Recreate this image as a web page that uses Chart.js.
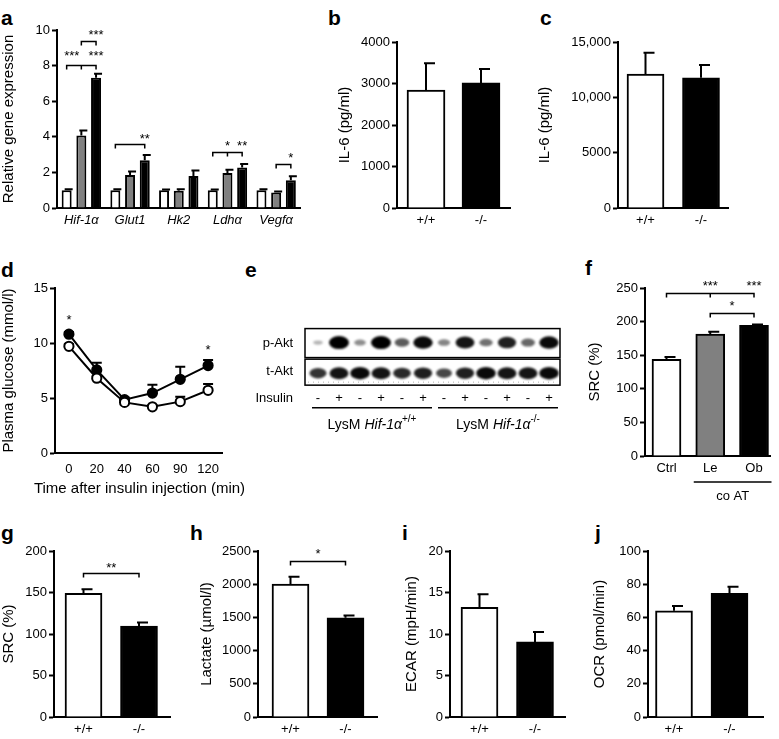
<!DOCTYPE html>
<html>
<head>
<meta charset="utf-8">
<title>Hif-1α macrophage figure</title>
<script src="https://cdn.jsdelivr.net/npm/chart.js@4.4.1/dist/chart.umd.min.js"></script>
<style>
  body { margin: 0; background: #fff; }
  #fig { position: relative; width: 779px; height: 739px; overflow: hidden; font-family: "Liberation Sans", Arial, sans-serif; }
  #fig canvas { position: absolute; }
  .tag { position: absolute; font-weight: bold; font-size: 21px; line-height: 21px; }
</style>
</head>
<body>
<div id="fig">
  <div class="tag" style="left:1px;top:7px">a</div>
  <div class="tag" style="left:328px;top:7px">b</div>
  <div class="tag" style="left:540px;top:7px">c</div>
  <div class="tag" style="left:1px;top:259px">d</div>
  <div class="tag" style="left:245px;top:259px">e</div>
  <div class="tag" style="left:585px;top:257px">f</div>
  <div class="tag" style="left:1px;top:522px">g</div>
  <div class="tag" style="left:190px;top:522px">h</div>
  <div class="tag" style="left:402px;top:522px">i</div>
  <div class="tag" style="left:595px;top:522px">j</div>
  <canvas id="ca"></canvas>
  <canvas id="cb"></canvas>
  <canvas id="cc"></canvas>
  <canvas id="cd"></canvas>
  <canvas id="ce"></canvas>
  <canvas id="cf"></canvas>
  <canvas id="cg"></canvas>
  <canvas id="ch"></canvas>
  <canvas id="ci"></canvas>
  <canvas id="cj"></canvas>
</div>
<script>
// ---- data ----
const genes = ['Hif-1α', 'Glut1', 'Hk2', 'Ldhα', 'Vegfα'];
const geneCtrl = [1.0, 1.0, 1.0, 1.0, 1.0];
const geneCtrlErr = [0.05, 0.05, 0.04, 0.04, 0.06];
const geneLean = [4.08, 1.85, 0.97, 1.97, 0.87];
const geneLeanErr = [0.28, 0.2, 0.08, 0.18, 0.05];
const geneObese = [7.32, 2.68, 1.8, 2.27, 1.56];
const geneObeseErr = [0.22, 0.3, 0.3, 0.2, 0.22];

const genotypes = ['+/+', '-/-'];
const il6Serum = [2840, 3015];
const il6SerumErr = [645, 335];
const il6Cells = [12100, 11770];
const il6CellsErr = [1930, 1150];

const times = ['0', '20', '40', '60', '90', '120'];
const glucWT = [9.7, 6.8, 4.6, 4.2, 4.67, 5.7];
const glucWTErr = [0.2, 0.2, 0.15, 0.15, 0.45, 0.57];
const glucKO = [10.8, 7.55, 4.85, 5.45, 6.7, 7.95];
const glucKOErr = [0.2, 0.65, 0.2, 0.75, 1.15, 0.5];

const insulin = ['-', '+', '-', '+', '-', '+', '-', '+', '-', '+', '-', '+'];
const pAkt = [0.12, 1, 0.3, 1, 0.55, 0.95, 0.35, 0.9, 0.45, 0.85, 0.5, 0.95];
const tAkt = [0.75, 0.9, 0.95, 0.9, 0.8, 0.85, 0.65, 0.85, 0.95, 0.9, 0.9, 0.95];
const blotRows = ['p-Akt', 't-Akt', 'Insulin'];
const mice = [{ from: 1, to: 6, sup: '+/+' }, { from: 7, to: 12, sup: '-/-' }];

const coculture = ['Ctrl', 'Le', 'Ob'];
const srcCo = [144, 181.5, 194.3];
const srcCoErr = [3.5, 3.3, 1.2];

const srcKO = [149, 109.5];
const srcKOErr = [5, 4.5];
const lactate = [2000, 1495];
const lactateErr = [112, 35];
const ecar = [13.2, 9.05];
const ecarErr = [1.6, 1.2];
const ocr = [64, 74.5];
const ocrErr = [2.8, 4];

const WHITE = '#ffffff', GREY = '#808080', BLACK = '#000000';
const FONT = '"Liberation Sans", Arial, sans-serif';

Chart.defaults.font.family = FONT;
Chart.defaults.color = '#000';

// brackets, stars and error caps per canvas
const notes = {
  ca: {
    cap: [2, 6],
    brackets: [
      { a: [0, 0], b: [0, 2], m: [0, 1], y: 8.03 },
      { a: [0, 1], b: [0, 2], y: 9.38 },
      { a: [1, 0], b: [1, 2], y: 3.6 },
      { a: [3, 0], b: [3, 2], m: [3, 1], y: 3.16 },
      { a: [4, 1], b: [4, 2], y: 2.45 }
    ],
    stars: [
      { at: [0, 0.35], y: 8.69, t: '***' }, { at: [0, 2], y: 8.69, t: '***' },
      { at: [0, 2], y: 9.87, t: '***' }, { at: [1, 2], y: 4.04, t: '**' },
      { at: [3, 1], y: 3.63, t: '*' }, { at: [3, 2], y: 3.63, t: '**' },
      { at: [4, 2], y: 2.95, t: '*' }
    ]
  },
  cd: {
    cap: [5, 5],
    stars: [{ at: [0, 1], y: 12.4, t: '*' }, { at: [5, 1], y: 9.6, t: '*' }],
    xtitle: 'Time after insulin injection (min)'
  },
  cf: {
    brackets: [{ a: [0, 0], b: [2, 0], m: [1, 0], y: 243 }, { a: [1, 0], b: [2, 0], y: 213 }],
    stars: [{ at: [1, 0], y: 258, t: '***' }, { at: [2, 0], y: 258, t: '***' }, { at: [1.5, 0], y: 227, t: '*' }],
    group: { from: 1, to: 2, text: 'co AT' }
  },
  cg: { brackets: [{ a: [0, 0], b: [1, 0], y: 173 }], stars: [{ at: [0.5, 0], y: 183, t: '**' }] },
  ch: { brackets: [{ a: [0, 0], b: [1, 0], y: 2349 }], stars: [{ at: [0.5, 0], y: 2500, t: '*' }] }
};

function barX(ch, cat, ds) {
  const px = (c, d) => ch.getDatasetMeta(d).data[c].x;
  const c0 = Math.floor(cat), d0 = Math.floor(ds);
  let x = px(c0, d0);
  if (cat > c0) x += (cat - c0) * (px(c0 + 1, d0) - px(c0, d0));
  if (ds > d0) x += (ds - d0) * (px(c0, d0 + 1) - px(c0, d0));
  return x;
}

const marks = {
  id: 'marks',
  beforeDatasetsDraw(ch) {
    const n = notes[ch.canvas.id] || {};
    const cap = n.cap || [2, 9];
    const ctx = ch.ctx, ys = ch.scales.y;
    ctx.save();
    ctx.strokeStyle = '#000';
    ctx.lineWidth = 2;
    ch.data.datasets.forEach((ds, d) => {
      if (!ds.errs) return;
      ch.getDatasetMeta(d).data.forEach((el, i) => {
        const raw = ds.data[i];
        const v = typeof raw === 'object' ? raw.y : raw;
        const top = ys.getPixelForValue(v + ds.errs[i]);
        ctx.beginPath();
        ctx.moveTo(el.x, el.y);
        ctx.lineTo(el.x, top);
        ctx.moveTo(el.x - cap[0], top);
        ctx.lineTo(el.x + cap[1], top);
        ctx.stroke();
      });
    });
    ctx.restore();
  },
  afterDatasetsDraw(ch) {
    const n = notes[ch.canvas.id];
    if (!n) return;
    const ctx = ch.ctx, ys = ch.scales.y;
    ctx.save();
    ctx.strokeStyle = '#000';
    ctx.fillStyle = '#000';
    ctx.lineWidth = 1.5;
    (n.brackets || []).forEach(b => {
      const xa = barX(ch, b.a[0], b.a[1]), xb = barX(ch, b.b[0], b.b[1]);
      const y = Math.round(ys.getPixelForValue(b.y)) + 0.5;
      ctx.beginPath();
      ctx.moveTo(xa, y + 4); ctx.lineTo(xa, y); ctx.lineTo(xb, y); ctx.lineTo(xb, y + 4);
      if (b.m) {
        const xm = barX(ch, b.m[0], b.m[1]);
        ctx.moveTo(xm, y); ctx.lineTo(xm, y + 4);
      }
      ctx.stroke();
    });
    ctx.font = '13px ' + FONT;
    ctx.textAlign = 'center';
    ctx.textBaseline = 'alphabetic';
    (n.stars || []).forEach(s => {
      ctx.fillText(s.t, barX(ch, s.at[0], s.at[1]), ys.getPixelForValue(s.y) + 7);
    });
    if (n.group) {
      const bars = ch.getDatasetMeta(0).data;
      const a = bars[n.group.from], b = bars[n.group.to];
      const x1 = a.x - a.width / 2 - 2, x2 = b.x + b.width / 2 + 3;
      const y = ch.chartArea.bottom + 26;
      ctx.beginPath();
      ctx.moveTo(x1, y); ctx.lineTo(x2, y);
      ctx.stroke();
      ctx.fillText(n.group.text, (x1 + x2) / 2, y + 18);
    }
    if (n.xtitle) {
      // wider than the axis, so drawn here instead of as a squeezed scale title
      const area = ch.chartArea;
      ctx.font = '15px ' + FONT;
      ctx.textBaseline = 'middle';
      ctx.fillText(n.xtitle, (area.left + area.right) / 2 + 1, area.bottom + 36);
    }
    ctx.restore();
  }
};
Chart.register(marks);

function yAxis(max, step, title, fmt) {
  return {
    min: 0, max,
    ticks: { stepSize: step, padding: 2, font: { size: 13 }, color: '#000', callback: fmt || (v => String(v)) },
    grid: { drawOnChartArea: false, drawTicks: true, tickLength: 5, tickWidth: 2, tickColor: '#000' },
    border: { display: true, color: '#000', width: 2 },
    title: { display: true, text: title, font: { size: 15 }, color: '#000', padding: 0 }
  };
}

function panel(id, g, type, data, scales) {
  const cv = document.getElementById(id);
  const left = g.tx - 9, top = g.y0 - g.pt;
  cv.width = Math.round(g.x1 + g.pr - left);
  cv.height = Math.round(g.y1 + g.xh - top);
  cv.style.left = left + 'px';
  cv.style.top = top + 'px';
  scales.y.afterFit = s => { s.width = g.x0 - left; };
  scales.x.afterFit = s => { s.height = g.xh; };
  return new Chart(cv, {
    type, data,
    options: {
      responsive: false, animation: false, devicePixelRatio: 1,
      layout: { padding: { top: g.pt, right: cv.width - (g.x1 - left), bottom: 0, left: 0 } },
      plugins: { legend: { display: false }, tooltip: { enabled: false } },
      scales
    }
  });
}

function barPanel(id, g, labels, vals, errs, fills, y) {
  const lo = 1 - (g.first - g.x0) / g.sp;
  const hi = lo + (g.x1 - g.x0) / g.sp;
  return panel(id, g, 'bar', {
    datasets: [{
      data: vals.map((v, i) => ({ x: i + 1, y: v })), errs,
      backgroundColor: fills, borderColor: '#000', borderWidth: 2, barThickness: g.bw
    }]
  }, {
    x: {
      type: 'linear', min: lo, max: hi, offset: false,
      afterBuildTicks: s => { s.ticks = labels.map((_, i) => ({ value: i + 1 })); },
      ticks: { padding: 5, autoSkip: false, font: { size: 13 }, color: '#000', callback: (v, i) => labels[i] },
      grid: { display: false, drawTicks: false, offset: false },
      border: { display: true, color: '#000', width: 2 }
    },
    y
  });
}

// a: relative gene expression
panel('ca', { tx: 9, x0: 57, x1: 300.5, y0: 30, y1: 208, pt: 30, pr: 8, xh: 30 }, 'bar', {
  labels: genes,
  datasets: [
    { data: geneCtrl, errs: geneCtrlErr, backgroundColor: WHITE },
    { data: geneLean, errs: geneLeanErr, backgroundColor: GREY },
    { data: geneObese, errs: geneObeseErr, backgroundColor: BLACK }
  ].map(d => Object.assign(d, { borderColor: '#000', borderWidth: 2, categoryPercentage: 0.905, barPercentage: 0.68 }))
}, {
  x: {
    type: 'category', offset: true,
    ticks: { padding: 5, font: { size: 13, style: 'italic' }, color: '#000' },
    grid: { display: false, drawTicks: false },
    border: { display: true, color: '#000', width: 2 }
  },
  y: yAxis(10, 2, 'Relative gene expression')
});

// b, c: IL-6
barPanel('cb', { tx: 345, x0: 397, x1: 510, y0: 42, y1: 208, pt: 36, pr: 10, xh: 30, first: 426, sp: 55, bw: 38 },
  genotypes, il6Serum, il6SerumErr, [WHITE, BLACK], yAxis(4000, 1000, 'IL-6 (pg/ml)'));
barPanel('cc', { tx: 545, x0: 618, x1: 728, y0: 42, y1: 208, pt: 36, pr: 10, xh: 30, first: 645.5, sp: 55.5, bw: 37 },
  genotypes, il6Cells, il6CellsErr, [WHITE, BLACK],
  yAxis(15000, 5000, 'IL-6 (pg/ml)', v => v >= 10000 ? v.toLocaleString('en-US') : String(v)));

// d: insulin tolerance
panel('cd', { tx: 9, x0: 55, x1: 222, y0: 288, y1: 453, pt: 24, pr: 34, xh: 48 }, 'line', {
  labels: times,
  datasets: [
    { data: glucWT, errs: glucWTErr, pointBackgroundColor: WHITE },
    { data: glucKO, errs: glucKOErr, pointBackgroundColor: BLACK }
  ].map(d => Object.assign(d, {
    borderColor: '#000', borderWidth: 2, pointRadius: 4.6, pointBorderColor: '#000', pointBorderWidth: 2, tension: 0
  }))
}, {
  x: {
    type: 'category', offset: true,
    ticks: { padding: 9, font: { size: 13 }, color: '#000' },
    grid: { display: false, drawTicks: false },
    border: { display: true, color: '#000', width: 2 }
  },
  y: yAxis(15, 5, 'Plasma glucose (mmol/l)')
});

// e: western blot, lanes on a hidden linear axis, rows on a category axis
const blot = {
  id: 'blot',
  beforeDatasetsDraw(ch) {
    const ctx = ch.ctx, area = ch.chartArea, xs = ch.scales.x;
    const rowY = name => ch.scales.y.getPixelForValue(blotRows.indexOf(name));
    ctx.save();
    [0, 1].forEach(d => {
      const sig = ch.data.datasets[d].signal;
      ch.getDatasetMeta(d).data.forEach((el, i) => {
        const s = sig[i];
        ctx.filter = 'blur(1.2px)';
        ctx.fillStyle = 'rgba(0,0,0,' + (0.2 + 0.8 * s) + ')';
        ctx.beginPath();
        ctx.ellipse(el.x, el.y + (d ? 2 : -1), 4 + 6 * s, 1.5 + 5 * s, 0, 0, Math.PI * 2);
        ctx.fill();
      });
    });
    ctx.filter = 'none';
    ctx.strokeStyle = '#000';
    ctx.lineWidth = 1.5;
    const yp = rowY('p-Akt'), yt = rowY('t-Akt');
    ctx.strokeRect(area.left, yp - 15, area.right - area.left, 29);
    ctx.strokeRect(area.left, yt - 12, area.right - area.left, 26);
    ctx.save();
    ctx.strokeStyle = '#b0b0b0';
    ctx.lineWidth = 1;
    ctx.setLineDash([1, 4]);
    ctx.beginPath();
    ctx.moveTo(area.left + 3, yt + 11);
    ctx.lineTo(area.right - 3, yt + 11);
    ctx.stroke();
    ctx.restore();

    ctx.fillStyle = '#000';
    ctx.font = '13px ' + FONT;
    ctx.textAlign = 'center';
    ctx.textBaseline = 'middle';
    ch.getDatasetMeta(2).data.forEach((el, i) => ctx.fillText(insulin[i], el.x, el.y));

    const yi = rowY('Insulin');
    mice.forEach(m => {
      const xa = xs.getPixelForValue(m.from) - 6, xb = xs.getPixelForValue(m.to) + 9;
      ctx.beginPath();
      ctx.moveTo(xa, yi + 9); ctx.lineTo(xb, yi + 9);
      ctx.stroke();
      const parts = [
        { t: 'LysM ', f: '14px ' + FONT, dy: 0 },
        { t: 'Hif-1α', f: 'italic 14px ' + FONT, dy: 0 },
        { t: m.sup, f: '10px ' + FONT, dy: -7 }
      ];
      let w = 0;
      parts.forEach(p => { ctx.font = p.f; p.w = ctx.measureText(p.t).width; w += p.w; });
      let x = (xa + xb) / 2 - w / 2;
      ctx.textAlign = 'left';
      ctx.textBaseline = 'alphabetic';
      parts.forEach(p => { ctx.font = p.f; ctx.fillText(p.t, x, yi + 30 + p.dy); x += p.w; });
    });
    ctx.restore();
  }
};

(function () {
  const cv = document.getElementById('ce');
  const left = 250, top = 310;
  cv.width = 330; cv.height = 130;
  cv.style.left = left + 'px'; cv.style.top = top + 'px';
  new Chart(cv, {
    type: 'scatter',
    data: {
      datasets: [
        { data: pAkt.map((v, i) => ({ x: i + 1, y: 'p-Akt' })), signal: pAkt },
        { data: tAkt.map((v, i) => ({ x: i + 1, y: 't-Akt' })), signal: tAkt },
        { data: insulin.map((v, i) => ({ x: i + 1, y: 'Insulin' })) }
      ].map(d => Object.assign(d, { pointRadius: 0 }))
    },
    options: {
      responsive: false, animation: false, devicePixelRatio: 1,
      layout: { padding: { top: 15.5, right: 20, bottom: 27.5, left: 0 } },
      plugins: { legend: { display: false }, tooltip: { enabled: false } },
      scales: {
        x: { type: 'linear', display: false, min: 0.381, max: 12.524 },
        y: {
          type: 'category', labels: blotRows, offset: true,
          afterFit: s => { s.width = 305 - left; },
          ticks: { padding: 12, font: { size: 13 }, color: '#000' },
          grid: { display: false, drawTicks: false },
          border: { display: false }
        }
      }
    },
    plugins: [blot]
  });
})();

// f: spare respiratory capacity after co-culture
barPanel('cf', { tx: 595, x0: 645, x1: 770, y0: 288, y1: 455.5, pt: 24, pr: 8, xh: 50, first: 666.5, sp: 43.75, bw: 29 },
  coculture, srcCo, srcCoErr, [WHITE, GREY, BLACK], yAxis(250, 50, 'SRC (%)'));

// g-j: knockout macrophages
barPanel('cg', { tx: 9, x0: 54, x1: 170, y0: 551, y1: 716.7, pt: 20, pr: 8, xh: 22, first: 83.5, sp: 55.5, bw: 37 },
  genotypes, srcKO, srcKOErr, [WHITE, BLACK], yAxis(200, 50, 'SRC (%)'));
barPanel('ch', { tx: 207, x0: 258, x1: 377, y0: 551, y1: 716.7, pt: 20, pr: 8, xh: 22, first: 290.5, sp: 55, bw: 37 },
  genotypes, lactate, lactateErr, [WHITE, BLACK], yAxis(2500, 500, 'Lactate (µmol/l)'));
barPanel('ci', { tx: 412, x0: 450, x1: 565, y0: 551, y1: 716.7, pt: 20, pr: 8, xh: 22, first: 479.5, sp: 55.5, bw: 37 },
  genotypes, ecar, ecarErr, [WHITE, BLACK], yAxis(20, 5, 'ECAR (mpH/min)'));
barPanel('cj', { tx: 600, x0: 648, x1: 763, y0: 551, y1: 716.7, pt: 20, pr: 8, xh: 22, first: 674, sp: 55.5, bw: 37 },
  genotypes, ocr, ocrErr, [WHITE, BLACK], yAxis(100, 20, 'OCR (pmol/min)'));
</script>
</body>
</html>
